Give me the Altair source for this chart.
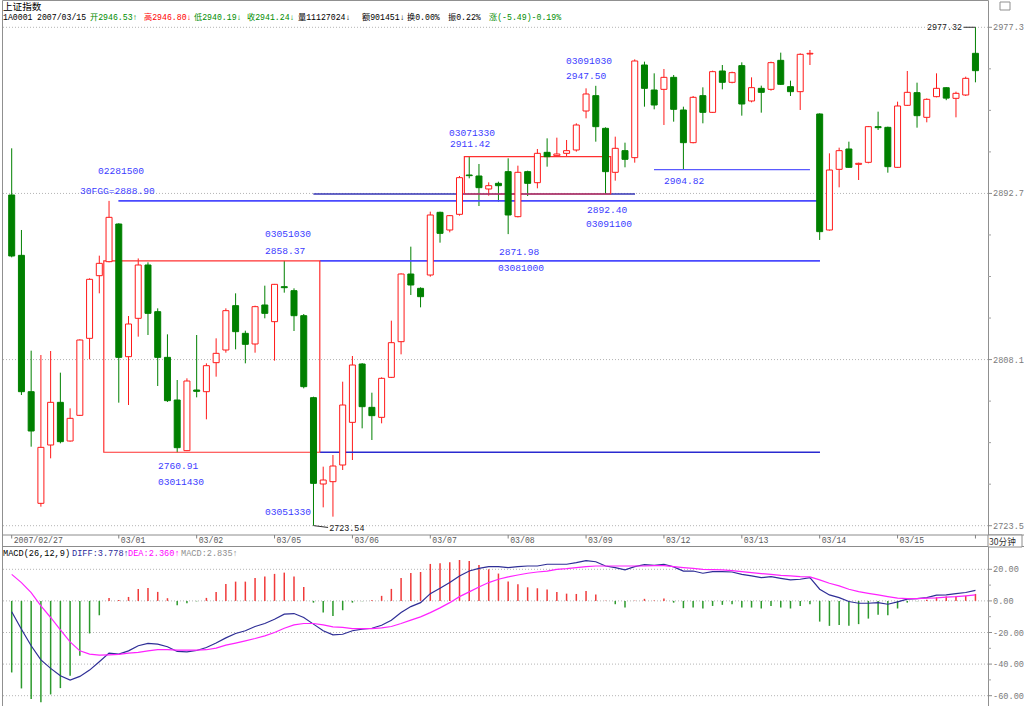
import altair as alt
import pandas as pd

# ---------------- 30-minute candles (index 0..99) ----------------
opens = [2891.90, 2861.18, 2791.75, 2734.89, 2764.59, 2786.32, 2766.63, 2779.70, 2818.91, 2850.82,
         2857.95, 2877.13, 2809.57, 2829.10, 2856.25, 2832.49, 2809.23, 2787.51, 2761.71, 2792.60,
         2791.75, 2806.52, 2812.97, 2835.55, 2821.46, 2816.03, 2835.89, 2827.40, 2845.22, 2843.18,
         2830.45, 2788.70, 2744.73, 2745.92, 2754.41, 2776.13, 2805.84, 2783.77, 2778.68, 2799.05,
         2817.21, 2851.67, 2844.37, 2851.16, 2883.08, 2874.08, 2882.06, 2902.09, 2901.58, 2894.96,
         2897.84, 2903.79, 2880.87, 2903.79, 2898.18, 2913.63, 2911.93, 2913.12, 2914.82, 2934.68,
         2942.49, 2925.85, 2903.45, 2914.48, 2910.92, 2958.10, 2945.37, 2945.71, 2951.82, 2935.19,
         2918.55, 2942.49, 2934.00, 2955.05, 2949.28, 2957.77, 2939.77, 2946.22, 2945.71, 2960.48,
         2947.07, 2944.52, 2963.71, 2933.15, 2874.08, 2904.97, 2915.33, 2907.52, 2908.54, 2926.70,
         2926.36, 2905.99, 2937.57, 2944.02, 2931.45, 2941.98, 2946.53, 2941.13, 2942.83, 2964.05]
highs = [2915.67, 2874.08, 2812.63, 2810.42, 2812.46, 2801.43, 2783.26, 2818.40, 2849.47, 2861.01,
         2888.90, 2877.50, 2830.28, 2859.60, 2857.61, 2834.19, 2820.95, 2797.69, 2798.54, 2820.61,
         2806.18, 2818.91, 2834.19, 2841.83, 2822.81, 2835.55, 2845.73, 2846.60, 2858.37, 2844.37,
         2831.30, 2789.20, 2753.56, 2759.50, 2796.84, 2809.91, 2806.30, 2791.24, 2799.05, 2827.91,
         2852.01, 2865.59, 2844.88, 2883.42, 2883.42, 2881.72, 2901.58, 2911.42, 2907.69, 2898.35,
         2898.69, 2910.58, 2906.84, 2904.29, 2915.33, 2920.76, 2921.10, 2919.91, 2928.40, 2946.22,
         2947.50, 2926.36, 2921.61, 2918.55, 2960.99, 2959.80, 2953.86, 2956.07, 2953.01, 2936.88,
         2942.32, 2946.73, 2955.22, 2958.10, 2954.71, 2959.46, 2951.82, 2947.58, 2959.80, 2964.39,
         2950.13, 2964.05, 2965.74, 2933.50, 2913.12, 2916.01, 2919.06, 2908.37, 2927.04, 2934.34,
         2926.70, 2939.43, 2955.05, 2949.11, 2941.13, 2953.86, 2946.80, 2944.52, 2952.16, 2977.32]
lows = [2860.16, 2790.05, 2763.74, 2733.19, 2757.80, 2765.44, 2766.29, 2779.36, 2808.22, 2841.83,
        2857.61, 2786.15, 2784.96, 2819.76, 2820.61, 2794.64, 2786.50, 2760.91, 2761.50, 2788.87,
        2777.66, 2799.39, 2811.61, 2813.31, 2806.18, 2811.61, 2829.10, 2807.54, 2842.17, 2822.64,
        2793.45, 2723.54, 2732.85, 2728.10, 2751.86, 2756.95, 2773.08, 2767.14, 2775.63, 2798.70,
        2810.76, 2840.98, 2834.70, 2850.31, 2867.63, 2872.89, 2881.38, 2900.39, 2886.30, 2891.56,
        2888.51, 2871.98, 2880.50, 2891.39, 2895.30, 2906.33, 2911.42, 2911.42, 2913.97, 2930.95,
        2919.06, 2892.40, 2899.20, 2906.00, 2908.37, 2936.88, 2935.53, 2927.55, 2929.25, 2904.82,
        2918.21, 2928.40, 2933.70, 2945.71, 2948.77, 2932.30, 2939.09, 2933.83, 2945.03, 2947.92,
        2942.32, 2935.19, 2958.10, 2869.01, 2873.74, 2895.81, 2905.80, 2899.54, 2908.03, 2925.00,
        2903.27, 2905.70, 2937.23, 2926.19, 2928.91, 2941.64, 2940.19, 2931.45, 2942.32, 2949.28]
closes = [2860.84, 2791.75, 2771.72, 2763.40, 2786.32, 2766.29, 2778.17, 2818.06, 2848.96, 2857.10,
          2880.53, 2809.23, 2826.21, 2856.25, 2831.64, 2809.23, 2787.17, 2763.23, 2797.18, 2791.92,
          2804.99, 2811.27, 2833.00, 2822.31, 2815.86, 2835.04, 2831.64, 2846.41, 2844.71, 2830.45,
          2794.30, 2745.07, 2746.77, 2753.90, 2784.96, 2805.33, 2784.11, 2779.53, 2798.54, 2816.70,
          2851.67, 2846.07, 2840.12, 2881.72, 2872.38, 2881.38, 2900.73, 2901.75, 2895.64, 2896.65,
          2896.65, 2881.72, 2903.45, 2897.84, 2913.12, 2911.42, 2912.78, 2914.48, 2927.55, 2943.34,
          2926.70, 2903.79, 2915.67, 2910.07, 2960.14, 2946.22, 2937.73, 2951.82, 2935.53, 2918.55,
          2941.64, 2934.00, 2954.71, 2949.28, 2954.20, 2938.24, 2946.56, 2944.18, 2959.29, 2948.26,
          2944.52, 2963.54, 2964.05, 2873.23, 2904.63, 2914.48, 2906.00, 2908.03, 2926.70, 2926.19,
          2906.33, 2937.23, 2944.18, 2932.30, 2940.62, 2946.22, 2941.24, 2943.68, 2951.31, 2955.22]

# ---------------- MACD(26,12,9) ----------------
diff_vals = [-6.9, -17.9, -28.4, -37.3, -42.7, -47.4, -50.1, -47.8, -43.8, -38.5,
             -33.0, -33.7, -31.6, -28.4, -26.9, -27.4, -29.0, -32.0, -32.2, -31.4,
             -29.5, -26.7, -23.4, -20.6, -18.9, -16.2, -14.3, -11.6, -8.4, -8.0,
             -10.5, -14.7, -18.9, -21.5, -21.1, -18.9, -17.9, -17.3, -15.4, -12.2,
             -7.4, -3.6, -1.1, 4.6, 8.0, 11.6, 15.8, 18.9, 20.6, 21.7,
             21.7, 21.1, 21.7, 22.1, 22.1, 23.2, 23.2, 23.2, 24.2, 25.5,
             24.8, 22.1, 21.1, 19.6, 21.7, 22.9, 22.5, 23.2, 21.5, 18.9,
             18.9, 17.5, 18.5, 18.5, 18.3, 16.8, 15.8, 14.7, 15.4, 14.3,
             13.3, 13.7, 14.7, 7.4, 3.8, 2.1, -0.4, -1.5, -1.5, -1.1,
             -2.1, -0.6, 1.1, 1.5, 2.1, 3.6, 3.778, 4.6, 5.3, 6.7]
dea_vals = [16.8, 11.6, 5.3, -3.2, -10.5, -18.3, -25.9, -31.6, -33.7, -34.3,
            -34.1, -33.9, -33.0, -32.6, -31.6, -30.9, -30.9, -31.2, -31.2, -31.2,
            -30.9, -29.9, -28.0, -26.7, -25.3, -23.8, -22.1, -20.0, -17.3, -15.2,
            -14.3, -14.3, -15.2, -16.4, -16.8, -17.5, -17.5, -17.5, -17.1, -16.2,
            -14.3, -12.2, -10.1, -7.4, -4.4, -1.1, 2.7, 5.7, 8.8, 11.6,
            13.7, 15.2, 16.4, 17.5, 18.3, 18.9, 20.0, 20.4, 21.1, 21.7,
            22.1, 22.1, 22.1, 22.1, 22.1, 22.1, 22.3, 22.3, 21.7, 21.1,
            20.6, 20.0, 19.8, 19.6, 19.2, 18.5, 17.9, 17.3, 16.8, 16.2,
            15.8, 15.4, 15.2, 13.3, 11.2, 9.5, 7.4, 5.9, 4.8, 3.8,
            2.7, 1.7, 1.5, 1.5, 1.7, 1.9, 2.36, 2.7, 3.2, 3.8]
hist_vals = [-45.3, -55.4, -62.1, -64.2, -59.2, -55.2, -47.4, -34.7, -20.6, -9.1,
             1.9, 0.6, 2.5, 7.6, 8.2, 5.7, 1.7, -2.7, -1.5, -0.3,
             1.9, 5.7, 10.7, 12.2, 12.2, 14.5, 15.4, 17.1, 17.9, 15.4,
             8.8, -1.1, -7.4, -9.5, -5.9, -1.1, -0.2, 0.4, 3.2, 7.6,
             14.5, 17.7, 18.3, 23.4, 23.8, 24.4, 25.9, 25.3, 22.7, 20.0,
             17.3, 12.2, 10.5, 8.6, 8.0, 7.2, 5.7, 4.6, 4.4, 6.3,
             4.0, 0.2, -2.1, -4.2, 0.2, 1.3, 0.3, 1.5, -1.1, -4.6,
             -4.2, -4.8, -3.2, -2.5, -2.1, -4.2, -4.2, -4.8, -3.2, -4.2,
             -4.8, -3.2, -2.1, -13.1, -15.8, -15.2, -15.8, -14.7, -11.2, -8.8,
             -9.1, -4.8, -1.1, -0.2, 0.8, 2.3, 2.835, 2.9, 3.2, 4.4]

# ---------------- axis ticks / labels ----------------
date_tick_idx = [0, 11, 19, 27, 35, 43, 51, 59, 67, 75, 83, 91, 99]
date_tick_lbl = ["2007/02/27", "03/01", "03/02", "03/05", "03/06", "03/07", "03/08",
                 "03/09", "03/12", "03/13", "03/14", "03/15", ""]
price_major = [2723.5, 2808.1, 2892.7, 2977.3]
price_major_lbl = ["2723.5", "2808.1", "2892.7", "2977.3"]
price_minor = [2744.65, 2765.8, 2786.95, 2829.25, 2850.4, 2871.55, 2913.85, 2935.0, 2956.15]
macd_major = [20, 0, -20, -40, -60]
macd_major_lbl = ["20.00", "0.00", "-20.00", "-40.00", "-60.00"]
macd_minor = [10, -10, -30, -50]

# ---------------- annotations ----------------
ann_text = ["02281500", "30FGG=2888.90", "03051030", "2858.37", "2760.91", "03011430",
            "03051330", "03071330", "2911.42", "03091030", "2947.50", "2892.40",
            "03091100", "2871.98", "03081000", "2904.82"]
ann_x = [8.86, 7.02, 26.02, 26.02, 15.03, 15.03, 26.02, 44.92, 45.02, 56.94, 56.94,
         59.10, 59.00, 50.06, 49.95, 67.00]
ann_y = [2904.1, 2893.9, 2871.8, 2863.5, 2754.0, 2745.9, 2730.6, 2923.3, 2917.7,
         2960.1, 2952.5, 2884.1, 2877.0, 2863.0, 2854.6, 2898.9]

dark_text = ["2723.54", "2977.32"]
dark_x = [32.62, 94.02]
dark_y = [2722.2, 2977.45]

conn_x0 = [31.0, 97.8]
conn_x1 = [32.5, 99.0]
conn_y0 = [2723.54, 2977.32]
conn_y1 = [2722.6, 2977.32]

seg_x0 = [10.96, 31.65, 31.65, 30.99, 65.98]
seg_x1 = [83.03, 83.03, 83.03, 64.03, 82.00]
seg_p = [2888.90, 2858.37, 2760.91, 2892.40, 2904.82]
seg_col = ["#4a4aff", "#4a4aff", "#2a2ad0", "#3434b4", "#5a5aff"]
seg_w = [1.6, 1.6, 1.3, 1.3, 1.4]

box_x0 = [9.46, 46.50]
box_x1 = [31.65, 61.53]
box_lo = [2760.91, 2892.40]
box_hi = [2858.37, 2911.42]

header1 = [("上证指数", 3, "#000000")]
header2 = [("1A0001", 3, "#000000"), ("2007/03/15", 37, "#000000"),
           ("开2946.53↑", 90, "#008c00"), ("高2946.80↓", 144, "#ff0000"),
           ("低2940.19↓", 194, "#008c00"), ("收2941.24↓", 247, "#008c00"),
           ("量11127024↓", 298, "#000000"), ("额901451↓", 362, "#000000"),
           ("换0.00%", 407, "#000000"), ("振0.22%", 448, "#000000"),
           ("涨(-5.49)-0.19%", 489, "#008c00")]
macd_title = [("MACD(26,12,9)", 3, "#000000"), ("DIFF:3.778↑", 72, "#2a2a9a"),
              ("DEA:2.360↑", 128, "#ff00ff"), ("MACD:2.835↑", 181, "#909090")]

# ---------------- styles ----------------
RED = "#ff1a1a"
GREEN = "#008000"
MONO = "Liberation Mono, DejaVu Sans Mono, Noto Sans CJK SC, monospace"
CJK = "Noto Sans CJK SC, DejaVu Sans Mono, sans-serif"
AXC = "#7a7a7a"
W, H = 986, 706
X_DOM = [-0.996, 100.29]

PRICE_SCALE = alt.Scale(domain=[2723.5, 2977.3], range=[525.7, 27.3], nice=False, zero=False, padding=0)
MACD_SCALE = alt.Scale(domain=[-60, 20], range=[695.7, 569.3], nice=False, zero=False, padding=0)
X_SCALE = alt.Scale(domain=X_DOM, nice=False, zero=False, padding=0)


def xq(field):
    return alt.X(f"{field}:Q", scale=X_SCALE, axis=None)


def yp(field):
    return alt.Y(f"{field}:Q", scale=PRICE_SCALE, axis=None)


def ym(field):
    return alt.Y(f"{field}:Q", scale=MACD_SCALE, axis=None)


def one(t):
    return pd.DataFrame({"t": [t]})


n = len(opens)
cdf = pd.DataFrame({"i": list(range(n)), "open": opens, "high": highs, "low": lows, "close": closes})
cdf["col"] = [RED if c >= o else GREEN for o, c in zip(opens, closes)]
cdf["fillc"] = ["#ffffff" if c >= o else GREEN for o, c in zip(opens, closes)]

mdf = pd.DataFrame({"i": list(range(n)), "diff": diff_vals, "dea": dea_vals, "hist": hist_vals})
mdf["col"] = ["#f03a3a" if h >= 0 else "#2c9a2c" for h in hist_vals]

# ---------------- price panel ----------------
grid_main = alt.Chart(pd.DataFrame({"p": price_major})).mark_rule(
    color="#b4b4b4", strokeDash=[1, 2], strokeWidth=1
).encode(y=yp("p"))

pmaj_df = pd.DataFrame({"p": price_major, "t": price_major_lbl})
p_ticks = alt.Chart(pmaj_df).mark_rule(color="#8c8c8c").encode(
    x=alt.value(W), x2=alt.value(W + 4), y=yp("p"))
p_minor = alt.Chart(pd.DataFrame({"p": price_minor})).mark_rule(color="#a0a0a0").encode(
    x=alt.value(W), x2=alt.value(W + 3), y=yp("p"))
p_labels = alt.Chart(pmaj_df).mark_text(
    align="left", baseline="middle", font=MONO, fontSize=8.6, color=AXC
).encode(x=alt.value(W + 5), y=yp("p"), text="t:N")

wicks = alt.Chart(cdf).mark_rule(strokeWidth=1).encode(
    x=xq("i"), y=yp("low"), y2="high:Q", color=alt.Color("col:N", scale=None)
)
bodies = alt.Chart(cdf).mark_bar(size=6, strokeWidth=1).encode(
    x=xq("i"), y=yp("open"), y2="close:Q",
    fill=alt.Fill("fillc:N", scale=None), stroke=alt.Stroke("col:N", scale=None)
)

seg_df = pd.DataFrame({"x0": seg_x0, "x1": seg_x1, "p": seg_p, "c": seg_col, "w": seg_w})
segs = alt.Chart(seg_df).mark_rule().encode(
    x=xq("x0"), x2="x1:Q", y=yp("p"),
    color=alt.Color("c:N", scale=None), strokeWidth=alt.StrokeWidth("w:Q", scale=None)
)

box_df = pd.DataFrame({"x0": box_x0, "x1": box_x1, "lo": box_lo, "hi": box_hi})
boxes = alt.Chart(box_df).mark_rect(fillOpacity=0, stroke="#ff3030", strokeWidth=1.2).encode(
    x=xq("x0"), x2="x1:Q", y=yp("lo"), y2="hi:Q"
)

ann_df = pd.DataFrame({"t": ann_text, "x": ann_x, "y": ann_y})
anns = alt.Chart(ann_df).mark_text(
    align="left", baseline="middle", font=MONO, fontSize=9.6, color="#3c3cff"
).encode(x=xq("x"), y=yp("y"), text="t:N")

dark_df = pd.DataFrame({"t": dark_text, "x": dark_x, "y": dark_y})
darks = alt.Chart(dark_df).mark_text(
    align="left", baseline="middle", font=MONO, fontSize=8.4, color="#202020"
).encode(x=xq("x"), y=yp("y"), text="t:N")

conn_df = pd.DataFrame({"x0": conn_x0, "x1": conn_x1, "y0": conn_y0, "y1": conn_y1})
conns = alt.Chart(conn_df).mark_rule(color="#303030", strokeWidth=1).encode(
    x=xq("x0"), x2="x1:Q", y=yp("y0"), y2="y1:Q"
)

hdr_layers = []
for t, px, c in header1:
    hdr_layers.append(alt.Chart(one(t)).mark_text(
        align="left", baseline="middle", font=CJK, fontSize=9.6, color=c
    ).encode(x=alt.value(px - 2), y=alt.value(7), text="t:N"))
for t, px, c in header2:
    hdr_layers.append(alt.Chart(one(t)).mark_text(
        align="left", baseline="middle", font=MONO, fontSize=8.2, color=c
    ).encode(x=alt.value(px - 2), y=alt.value(17.5), text="t:N"))
icon = alt.Chart(one("icon")).mark_rect(fillOpacity=0, stroke="#909090", strokeWidth=1).encode(
    x=alt.value(W + 12), x2=alt.value(W + 22), y=alt.value(2), y2=alt.value(10))

price_group = alt.layer(grid_main, p_ticks, p_minor, p_labels, wicks, segs, boxes, bodies,
                        conns, anns, darks, icon, *hdr_layers)

# ---------------- date strip ----------------
date_df = pd.DataFrame({"i": date_tick_idx, "t": date_tick_lbl})
strip_top = alt.Chart(one("top")).mark_rule(color="#8c8c8c").encode(
    x=alt.value(0), x2=alt.value(W + 36), y=alt.value(535))
strip_bot = alt.Chart(one("bot")).mark_rule(color="#8c8c8c").encode(
    x=alt.value(0), x2=alt.value(W + 36), y=alt.value(546.5))
date_ticks = alt.Chart(date_df).mark_rule(color="#808080").encode(
    x=xq("i"), y=alt.value(535), y2=alt.value(538.5))
date_labels = alt.Chart(date_df).mark_text(
    align="left", baseline="middle", dx=2, font=MONO, fontSize=8.2, color="#5a5a5a"
).encode(x=xq("i"), y=alt.value(541), text="t:N")
unit_box = alt.Chart(one("30分钟")).mark_rect(
    fill="#ffffff", stroke="#8c8c8c", strokeWidth=1
).encode(x=alt.value(W), x2=alt.value(W + 34), y=alt.value(535), y2=alt.value(547))
unit_txt = alt.Chart(one("30分钟")).mark_text(
    align="left", baseline="middle", font=CJK, fontSize=8.6, color="#303030"
).encode(x=alt.value(W + 1), y=alt.value(541.5), text="t:N")

# ---------------- MACD panel ----------------
grid_macd = alt.Chart(pd.DataFrame({"v": macd_major})).mark_rule(
    color="#b4b4b4", strokeDash=[1, 2], strokeWidth=1
).encode(y=ym("v"))
mmaj_df = pd.DataFrame({"v": macd_major, "t": macd_major_lbl})
m_ticks = alt.Chart(mmaj_df).mark_rule(color="#8c8c8c").encode(
    x=alt.value(W), x2=alt.value(W + 4), y=ym("v"))
m_minor = alt.Chart(pd.DataFrame({"v": macd_minor})).mark_rule(color="#a0a0a0").encode(
    x=alt.value(W), x2=alt.value(W + 3), y=ym("v"))
m_labels = alt.Chart(mmaj_df).mark_text(
    align="left", baseline="middle", font=MONO, fontSize=8.6, color=AXC
).encode(x=alt.value(W + 5), y=ym("v"), text="t:N")

hist = alt.Chart(mdf).mark_rule(strokeWidth=1.5).encode(
    x=xq("i"), y=ym("hist"), y2=alt.datum(0), color=alt.Color("col:N", scale=None)
)
diff_line = alt.Chart(mdf).mark_line(color="#2e2e96", strokeWidth=1.2).encode(x=xq("i"), y=ym("diff"))
dea_line = alt.Chart(mdf).mark_line(color="#ff22ff", strokeWidth=1.2).encode(x=xq("i"), y=ym("dea"))

macd_hdr = []
for t, px, c in macd_title:
    macd_hdr.append(alt.Chart(one(t)).mark_text(
        align="left", baseline="middle", font=MONO, fontSize=8.6, color=c
    ).encode(x=alt.value(px - 2), y=alt.value(553), text="t:N"))

macd_group = alt.layer(grid_macd, m_ticks, m_minor, m_labels, hist, diff_line, dea_line,
                       strip_top, strip_bot, date_ticks, date_labels, unit_box, unit_txt, *macd_hdr)

chart = alt.layer(price_group, macd_group).resolve_scale(y="independent").properties(
    width=W, height=H,
    autosize=alt.AutoSizeParams(type="none"),
    padding={"left": 2, "right": 36, "top": 0, "bottom": 0},
    background="#ffffff",
).configure_view(stroke="#909090", strokeWidth=1)

chart.save("out.html", embed_options={"renderer": "svg", "actions": False})
